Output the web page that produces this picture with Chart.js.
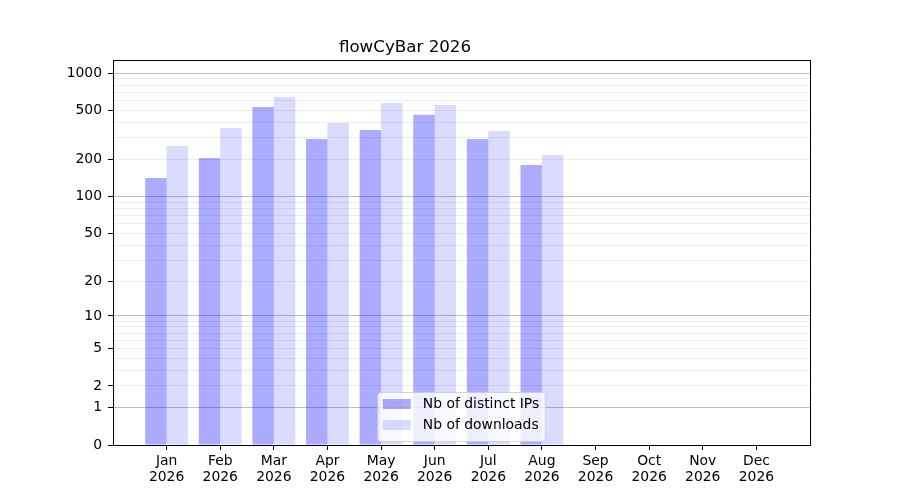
<!DOCTYPE html>
<html>
<head>
<meta charset="utf-8">
<script src="https://cdn.jsdelivr.net/npm/chart.js@4.4.1/dist/chart.umd.min.js"></script>
<style>
  body { margin: 0; background: #fff; }
  canvas { display: block; }
</style>
</head>
<body>
<canvas id="chart" width="900" height="500"></canvas>
<script>
// chart data
const months = ['Jan', 'Feb', 'Mar', 'Apr', 'May', 'Jun', 'Jul', 'Aug', 'Sep', 'Oct', 'Nov', 'Dec'];
const year = '2026';
const distinctIPs = [142, 206, 534, 294, 348, 463, 294, 181];
const downloads = [258, 361, 643, 396, 575, 554, 342, 218];
const yLabelValues = [0, 1, 2, 5, 10, 20, 50, 100, 200, 500, 1000];
const yMajorValues = [1, 10, 100, 1000];
const yTop = 1280;

// y axis is log10(1 + v)
const toAxis = v => Math.log10(1 + v);

// grid positions: 0, then 1..9 for each decade, then 1000
const yGridValues = [0];
[1, 10, 100].forEach(d => { for (let k = 1; k < 10; k++) yGridValues.push(k * d); });
yGridValues.push(1000);

const boxPlugin = {
  id: 'box',
  afterDraw(chart) {
    const { ctx, chartArea: a } = chart;
    ctx.save();
    ctx.strokeStyle = '#000';
    ctx.lineWidth = 1;
    ctx.strokeRect(Math.round(a.left) + 0.5, Math.round(a.top) + 0.5,
      Math.round(a.right - a.left), Math.round(a.bottom - a.top));
    ctx.restore();
  }
};

const legendPlugin = {
  id: 'innerLegend',
  afterDatasetsDraw(chart) {
    const { ctx, chartArea: a } = chart;
    const sets = chart.data.datasets;
    ctx.save();
    ctx.font = '13.9px "DejaVu Sans"';
    const textW = Math.max(...sets.map(s => ctx.measureText(s.label).width));
    const w = 5 + 28 + 12 + textW + 6;
    const h = 49;
    const x = (a.left + a.right) / 2 - w / 2;
    const y = a.bottom - 3.5 - h;
    ctx.beginPath();
    ctx.roundRect(x, y, w, h, 3);
    ctx.fillStyle = 'rgba(255,255,255,0.8)';
    ctx.fill();
    ctx.strokeStyle = 'rgba(204,204,204,0.8)';
    ctx.lineWidth = 1;
    ctx.stroke();
    sets.forEach((s, i) => {
      const cy = y + 11.5 + i * 21;
      ctx.fillStyle = s.backgroundColor;
      ctx.fillRect(x + 5, cy - 5, 28, 10);
      ctx.fillStyle = '#000';
      ctx.textBaseline = 'middle';
      ctx.fillText(s.label, x + 45, cy);
    });
    ctx.restore();
  }
};

Chart.defaults.font.family = '"DejaVu Sans"';
Chart.defaults.color = '#000';

new Chart(document.getElementById('chart'), {
  type: 'bar',
  data: {
    datasets: [
      {
        label: 'Nb of distinct IPs',
        data: distinctIPs.map((v, i) => ({ x: i, y: toAxis(v) })),
        backgroundColor: 'rgba(0,0,255,0.33)',
        borderWidth: 0
      },
      {
        label: 'Nb of downloads',
        data: downloads.map((v, i) => ({ x: i, y: toAxis(v) })),
        backgroundColor: 'rgba(0,0,255,0.14)',
        borderWidth: 0
      }
    ]
  },
  options: {
    responsive: false,
    animation: false,
    devicePixelRatio: 1,
    categoryPercentage: 0.8,
    barPercentage: 1.0,
    layout: { padding: { left: 0, right: 90, top: 0, bottom: 0 } },
    plugins: {
      legend: { display: false },
      tooltip: { enabled: false },
      title: {
        display: true,
        text: 'flowCyBar ' + year,
        font: { size: 16.7, weight: 'normal' },
        padding: { top: 38, bottom: 2 }
      }
    },
    scales: {
      x: {
        type: 'linear',
        min: -1,
        max: months.length,
        offset: false,
        border: { display: false },
        grid: { offset: false, drawOnChartArea: false, drawTicks: true, tickLength: 5, tickColor: '#000' },
        afterBuildTicks: axis => { axis.ticks = months.map((m, i) => ({ value: i })); },
        afterFit: axis => { axis.height = 55; },
        ticks: {
          autoSkip: false,
          maxRotation: 0,
          padding: 4,
          font: { size: 13.9, lineHeight: 1.1 },
          callback: (value, index) => [months[index], year]
        }
      },
      y: {
        type: 'linear',
        min: 0,
        max: toAxis(yTop),
        border: { display: false },
        grid: {
          drawTicks: true,
          tickLength: 5,
          lineWidth: 1,
          color: c => {
            const v = yGridValues[c.index];
            if (v === 0) return 'rgba(0,0,0,0)';
            return yMajorValues.includes(v) ? '#c0c0c0' : '#ececec';
          },
          tickColor: c => yLabelValues.includes(yGridValues[c.index]) ? '#000' : 'rgba(0,0,0,0)'
        },
        afterBuildTicks: axis => { axis.ticks = yGridValues.map(v => ({ value: toAxis(v) })); },
        afterFit: axis => { axis.width = 113; },
        ticks: {
          autoSkip: false,
          padding: 6,
          font: { size: 13.9 },
          callback: (value, index) => {
            const v = yGridValues[index];
            return yLabelValues.includes(v) ? String(v) : '';
          }
        }
      }
    }
  },
  plugins: [boxPlugin, legendPlugin]
});
</script>
</body>
</html>
